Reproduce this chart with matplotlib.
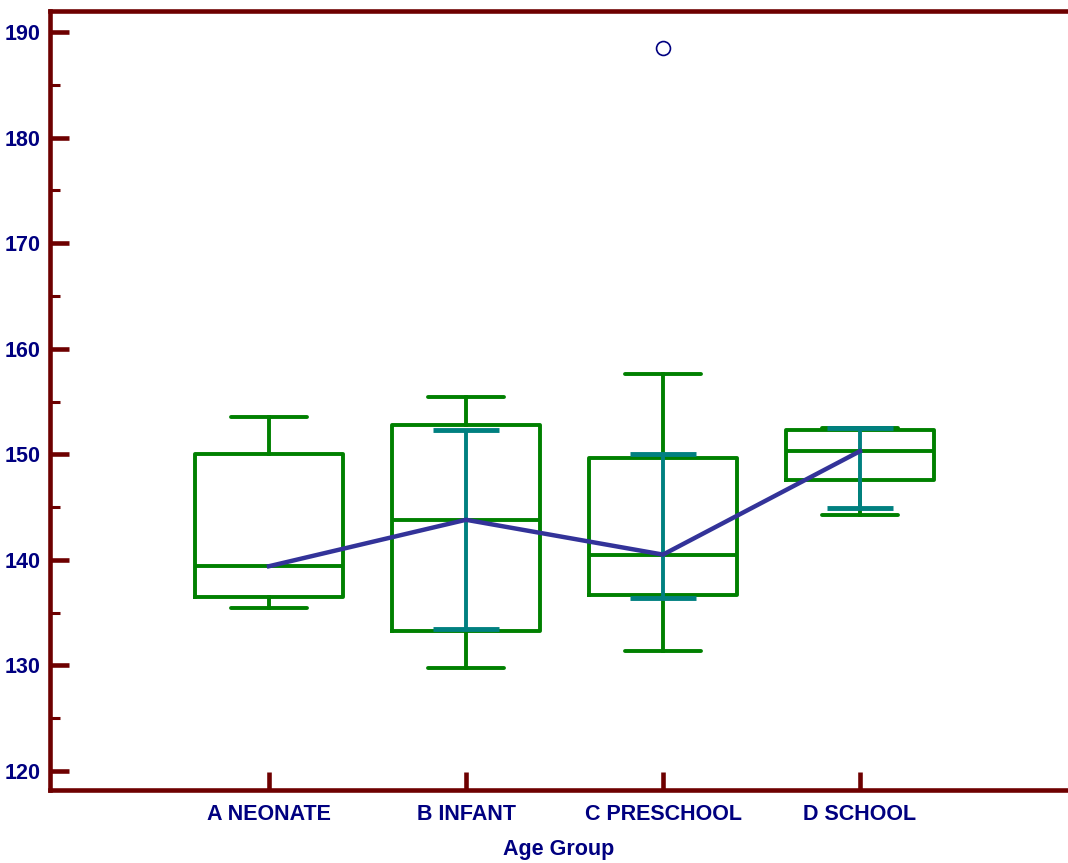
import matplotlib
matplotlib.use("Agg")
import matplotlib.pyplot as plt
import numpy as np

plt.rcParams['font.family'] = ['Liberation Sans', 'DejaVu Sans']

# Данные
groups = ["A NEONATE", "B INFANT", "C PRESCHOOL", "D SCHOOL"]
whisker_low = [135.4, 129.8, 131.4, 144.3]
q1 = [136.5, 133.3, 136.7, 147.6]
median = [139.4, 143.8, 140.5, 150.3]
q3 = [150.0, 152.8, 149.7, 152.3]
whisker_high = [153.5, 155.4, 157.6, 152.5]
outliers = [[], [], [188.5], []]
# доверительный интервал (бирюзовые отрезки), у группы A его нет
ci_low = [np.nan, 133.5, 136.4, 144.9]
ci_high = [np.nan, 152.3, 150.0, 152.5]

green = '#008000'
teal = '#008080'
navy = '#000080'
dark_red = '#6e0000'
line_blue = '#333399'

fig = plt.figure(figsize=(10.68, 8.63), dpi=100)
ax = fig.add_axes([50 / 1068, 73 / 863, 1 - 50 / 1068, 779 / 863])

pos = np.arange(1, len(groups) + 1)
stats = []
for i, g in enumerate(groups):
    stats.append(dict(label=g, med=median[i], q1=q1[i], q3=q3[i],
                      whislo=whisker_low[i], whishi=whisker_high[i],
                      fliers=outliers[i]))

lw = 2.8
ax.bxp(stats, positions=pos, widths=0.75, capwidths=0.39,
       boxprops=dict(color=green, linewidth=lw, solid_joinstyle='round'),
       medianprops=dict(color=green, linewidth=lw),
       whiskerprops=dict(color=green, linewidth=lw),
       capprops=dict(color=green, linewidth=lw, solid_capstyle='round'),
       flierprops=dict(marker='o', markerfacecolor='none', markeredgecolor=navy,
                       markersize=10, markeredgewidth=1.2),
       zorder=2)

ci_low = np.array(ci_low)
ci_high = np.array(ci_high)
center = (ci_low + ci_high) / 2
eb = ax.errorbar(pos, center, yerr=[center - ci_low, ci_high - center], fmt='none',
                 ecolor=teal, elinewidth=lw, capsize=24, capthick=3.5, zorder=3)

ax.plot(pos, median, color=line_blue, linewidth=3.2, zorder=4)

ax.set_xlim(1 - 219 / 197, 1 + (1068 - 269) / 197)
ax.set_ylim(118.2, 192)
ax.set_yticks(np.arange(120, 191, 10))
ax.set_yticks(np.arange(125, 191, 10), minor=True)
ax.set_xticks(pos)
ax.set_xticklabels(groups)

for s in ['left', 'top', 'bottom']:
    ax.spines[s].set_color(dark_red)
    ax.spines[s].set_linewidth(3.3)
ax.spines['right'].set_visible(False)

ax.tick_params(axis='y', which='major', direction='in', length=14, width=3.3,
               color=dark_red, pad=7, labelsize=15.5, labelcolor=navy)
ax.tick_params(axis='y', which='minor', direction='in', length=7, width=2.2,
               color=dark_red)
ax.tick_params(axis='x', which='major', direction='in', length=13, width=3.3,
               color=dark_red, pad=10, labelsize=15.5, labelcolor=navy)
for lab in ax.get_xticklabels() + ax.get_yticklabels():
    lab.set_fontweight('bold')

ax.set_xlabel('Age Group', fontsize=15.5, fontweight='bold', color=navy, labelpad=10)

fig.savefig('out.png', dpi=100)
